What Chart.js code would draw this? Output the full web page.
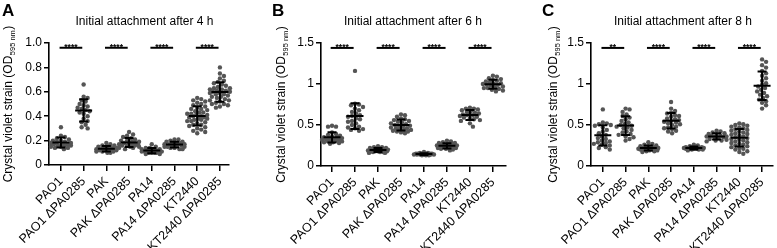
<!DOCTYPE html>
<html>
<head>
<meta charset="utf-8">
<script src="https://cdn.jsdelivr.net/npm/chart.js@4.4.1/dist/chart.umd.min.js"></script>
<style>
  body { margin: 0; background: #fff; }
  #wrap { position: relative; width: 777px; height: 248px; overflow: hidden; }
  canvas { position: absolute; top: 0; }
</style>
</head>
<body>
<div id="wrap">
  <canvas id="cA" width="270" height="248" style="left:0px"></canvas>
  <canvas id="cB" width="270" height="248" style="left:270px"></canvas>
  <canvas id="cC" width="237" height="248" style="left:540px"></canvas>
</div>
<script>
// strains on the x axis
const categories = ['PAO1', 'PAO1 ΔPA0285', 'PAK', 'PAK ΔPA0285', 'PA14', 'PA14 ΔPA0285', 'KT2440', 'KT2440 ΔPA0285'];

// crystal violet OD595 per replicate, one list per strain
const od4h = [
  [0.31, 0.24, 0.23, 0.22, 0.21, 0.20, 0.20, 0.19, 0.19, 0.18, 0.18, 0.17, 0.17, 0.17, 0.16, 0.16, 0.16, 0.15, 0.15, 0.14, 0.14, 0.13],
  [0.66, 0.56, 0.55, 0.53, 0.52, 0.50, 0.49, 0.48, 0.47, 0.46, 0.45, 0.44, 0.43, 0.42, 0.40, 0.38, 0.36, 0.35, 0.33, 0.31, 0.30],
  [0.18, 0.17, 0.16, 0.16, 0.15, 0.15, 0.14, 0.14, 0.14, 0.13, 0.13, 0.13, 0.13, 0.12, 0.12, 0.12, 0.12, 0.11, 0.11, 0.11, 0.10, 0.10],
  [0.27, 0.25, 0.24, 0.23, 0.22, 0.21, 0.20, 0.20, 0.19, 0.19, 0.18, 0.18, 0.18, 0.17, 0.17, 0.17, 0.16, 0.16, 0.16, 0.15, 0.15, 0.14, 0.14, 0.13],
  [0.17, 0.15, 0.14, 0.14, 0.13, 0.13, 0.12, 0.12, 0.12, 0.12, 0.11, 0.11, 0.11, 0.11, 0.10, 0.10, 0.10, 0.10, 0.09, 0.09],
  [0.21, 0.21, 0.20, 0.19, 0.19, 0.18, 0.18, 0.18, 0.17, 0.17, 0.17, 0.17, 0.16, 0.16, 0.16, 0.15, 0.15, 0.15, 0.14, 0.14, 0.13, 0.13],
  [0.55, 0.54, 0.53, 0.52, 0.51, 0.50, 0.49, 0.48, 0.47, 0.46, 0.46, 0.45, 0.44, 0.43, 0.43, 0.42, 0.42, 0.41, 0.41, 0.40,
   0.40, 0.39, 0.39, 0.38, 0.38, 0.37, 0.37, 0.36, 0.36, 0.35, 0.34, 0.33, 0.33, 0.32, 0.31, 0.30, 0.29, 0.28, 0.27, 0.26],
  [0.80, 0.75, 0.73, 0.71, 0.69, 0.68, 0.67, 0.66, 0.65, 0.64, 0.63, 0.63, 0.62, 0.62, 0.61, 0.61, 0.60, 0.60,
   0.59, 0.59, 0.58, 0.58, 0.57, 0.56, 0.56, 0.55, 0.54, 0.53, 0.53, 0.52, 0.51, 0.50, 0.50, 0.49, 0.48, 0.47]
];
const od6h = [
  [0.49, 0.48, 0.48, 0.41, 0.39, 0.38, 0.37, 0.36, 0.35, 0.35, 0.34, 0.34, 0.33, 0.33, 0.32, 0.32, 0.31, 0.31, 0.30, 0.30, 0.29, 0.29, 0.28, 0.27],
  [1.16, 0.76, 0.75, 0.74, 0.72, 0.70, 0.68, 0.66, 0.64, 0.62, 0.61, 0.60, 0.58, 0.57, 0.55, 0.54, 0.52, 0.50, 0.48, 0.47, 0.46, 0.45, 0.44, 0.43],
  [0.24, 0.23, 0.23, 0.22, 0.22, 0.21, 0.21, 0.20, 0.20, 0.20, 0.19, 0.19, 0.19, 0.18, 0.18, 0.18, 0.18, 0.17, 0.17, 0.17, 0.16, 0.16],
  [0.63, 0.62, 0.60, 0.58, 0.57, 0.56, 0.55, 0.54, 0.53, 0.52, 0.51, 0.50, 0.49, 0.49, 0.48, 0.47, 0.46, 0.46, 0.45, 0.44, 0.44, 0.43, 0.42, 0.42, 0.41, 0.40],
  [0.17, 0.16, 0.16, 0.15, 0.15, 0.15, 0.15, 0.15, 0.15, 0.14, 0.14, 0.14, 0.14, 0.14, 0.14, 0.14, 0.14, 0.13, 0.13, 0.13],
  [0.31, 0.30, 0.29, 0.28, 0.28, 0.27, 0.27, 0.26, 0.26, 0.25, 0.25, 0.25, 0.24, 0.24, 0.24, 0.23, 0.23, 0.22, 0.22, 0.22, 0.21, 0.21, 0.20, 0.19],
  [0.71, 0.70, 0.70, 0.69, 0.68, 0.67, 0.66, 0.65, 0.64, 0.63, 0.63, 0.62, 0.62, 0.61, 0.60, 0.59, 0.58, 0.57, 0.56, 0.55, 0.52, 0.48],
  [1.10, 1.09, 1.07, 1.06, 1.05, 1.04, 1.03, 1.02, 1.01, 1.00, 1.00, 0.99, 0.99, 0.98, 0.97, 0.96, 0.95, 0.95, 0.94, 0.93, 0.92, 0.91]
];
const od8h = [
  [0.69, 0.53, 0.52, 0.51, 0.50, 0.49, 0.47, 0.44, 0.42, 0.40, 0.38, 0.36, 0.34, 0.33, 0.31, 0.30, 0.29, 0.28, 0.27, 0.26, 0.25, 0.23, 0.22, 0.20],
  [0.70, 0.69, 0.66, 0.63, 0.61, 0.59, 0.57, 0.55, 0.53, 0.51, 0.50, 0.49, 0.48, 0.47, 0.46, 0.44, 0.42, 0.41, 0.39, 0.38, 0.36, 0.35, 0.33, 0.31],
  [0.29, 0.27, 0.26, 0.25, 0.24, 0.24, 0.23, 0.23, 0.22, 0.22, 0.22, 0.21, 0.21, 0.21, 0.20, 0.20, 0.20, 0.19, 0.19, 0.18, 0.18, 0.17],
  [0.78, 0.70, 0.67, 0.65, 0.64, 0.62, 0.61, 0.60, 0.58, 0.57, 0.56, 0.55, 0.54, 0.53, 0.52, 0.51, 0.50, 0.48, 0.47, 0.46, 0.45, 0.43, 0.42, 0.40],
  [0.26, 0.25, 0.24, 0.23, 0.23, 0.23, 0.22, 0.22, 0.22, 0.22, 0.22, 0.21, 0.21, 0.21, 0.21, 0.21, 0.20, 0.20, 0.20, 0.19],
  [0.43, 0.42, 0.41, 0.40, 0.39, 0.38, 0.37, 0.37, 0.36, 0.36, 0.35, 0.35, 0.34, 0.33, 0.32, 0.31, 0.31, 0.30],
  [0.52, 0.51, 0.50, 0.49, 0.48, 0.47, 0.46, 0.45, 0.44, 0.43, 0.42, 0.41, 0.40, 0.39, 0.38, 0.37, 0.36, 0.35,
   0.34, 0.33, 0.32, 0.31, 0.30, 0.29, 0.28, 0.27, 0.26, 0.25, 0.24, 0.23, 0.22, 0.21, 0.20, 0.18, 0.17, 0.15],
  [1.30, 1.27, 1.23, 1.20, 1.16, 1.13, 1.10, 1.07, 1.04, 1.01, 0.99, 0.97, 0.95, 0.93, 0.91, 0.89, 0.87, 0.85, 0.83, 0.81, 0.79, 0.77, 0.74, 0.70]
];

// significance for each WT / ΔPA0285 pair
const stars4h = ['****', '****', '****', '****'];
const stars6h = ['****', '****', '****', '****'];
const stars8h = ['**', '****', '****', '****'];

const titles = ['Initial attachment after 4 h', 'Initial attachment after 6 h', 'Initial attachment after 8 h'];
const letters = ['A', 'B', 'C'];

const FONT = "'Liberation Sans', Arial, Helvetica, sans-serif";
Chart.defaults.font.family = FONT;
Chart.defaults.color = '#000';

const panels = [
  { id: 'cA', values: od4h, stars: stars4h, yMax: 1.0, yStep: 0.2, sigY: 0.961, xMin: -0.525, xMax: 7.4, axisLeft: 49, axisRight: 229, bottom: 165, titleX: 144.5, yTitleX: 7.5 },
  { id: 'cB', values: od6h, stars: stars6h, yMax: 1.5, yStep: 0.5, sigY: 1.44,  xMin: -0.48,  xMax: 7.57, axisLeft: 51, axisRight: 236, bottom: 166, titleX: 143,   yTitleX: 10 },
  { id: 'cC', values: od8h, stars: stars8h, yMax: 1.5, yStep: 0.5, sigY: 1.44,  xMin: -0.52,  xMax: 7.48, axisLeft: 51, axisRight: 234, bottom: 166, titleX: 143,   yTitleX: 12 }
];

function mean(a) { return a.reduce((s, v) => s + v, 0) / a.length; }
function sd(a) { const m = mean(a); return Math.sqrt(a.reduce((s, v) => s + (v - m) * (v - m), 0) / (a.length - 1)); }

// spread the dots sideways so they don't pile up (beeswarm, in pixels)
function swarm(vals, pxY) {
  const d = 3.9, maxOff = 10;
  const placed = [];
  const off = new Array(vals.length).fill(0);
  const order = vals.map((v, i) => i).sort((a, b) => vals[b] - vals[a]);
  for (const i of order) {
    const y = vals[i] * pxY;
    let best = 0, bestDist = -1;
    for (let k = 0; k <= 2 * maxOff; k++) {
      const dx = k === 0 ? 0 : (k % 2 ? 1 : -1) * Math.ceil(k / 2);
      let minD = Infinity;
      for (const p of placed) minD = Math.min(minD, Math.hypot(p.x - dx, p.y - y));
      if (minD >= d) { best = dx; bestDist = minD; break; }
      if (minD > bestDist) { bestDist = minD; best = dx; }
    }
    placed.push({ x: best, y: y });
    off[i] = best;
  }
  return off;
}

function makeDecor(p, idx) {
  return {
    id: 'decor' + idx,
    afterDatasetsDraw(chart) {
      const { ctx, scales: { x, y } } = chart;
      ctx.save();
      ctx.strokeStyle = '#000';
      ctx.lineWidth = 2;
      // mean ± SD
      p.values.forEach((vals, i) => {
        const m = mean(vals), s = sd(vals);
        const cx = x.getPixelForValue(i);
        const ym = y.getPixelForValue(m), yt = y.getPixelForValue(m + s), yb = y.getPixelForValue(m - s);
        ctx.beginPath();
        ctx.moveTo(cx - 8.5, ym); ctx.lineTo(cx + 8.5, ym);
        ctx.moveTo(cx, yt); ctx.lineTo(cx, yb);
        ctx.moveTo(cx - 4.5, yt); ctx.lineTo(cx + 4.5, yt);
        ctx.moveTo(cx - 4.5, yb); ctx.lineTo(cx + 4.5, yb);
        ctx.stroke();
      });
      // significance bars
      ctx.fillStyle = '#000';
      ctx.font = 'bold 8.5px ' + FONT;
      ctx.textAlign = 'center';
      ctx.textBaseline = 'alphabetic';
      p.stars.forEach((st, k) => {
        const x1 = x.getPixelForValue(2 * k - 0.06), x2 = x.getPixelForValue(2 * k + 1 - 0.06);
        const yy = y.getPixelForValue(p.sigY);
        ctx.beginPath();
        ctx.moveTo(x1, yy); ctx.lineTo(x2, yy);
        ctx.stroke();
        ctx.fillText(st, (x1 + x2) / 2, yy + 2);
      });
      ctx.restore();
    },
    afterDraw(chart) {
      const { ctx, chartArea } = chart;
      ctx.save();
      ctx.fillStyle = '#000';
      ctx.textBaseline = 'alphabetic';
      ctx.textAlign = 'left';
      ctx.font = 'bold 17px ' + FONT;
      ctx.fillText(letters[idx], 2, 15.5);
      ctx.font = '12px ' + FONT;
      ctx.textAlign = 'center';
      ctx.fillText(titles[idx], p.titleX, 24.5);
      // y title with subscript
      const main = 'Crystal violet strain (OD', sub = '595 nm', end = ')';
      ctx.font = '12px ' + FONT;
      const w1 = ctx.measureText(main).width, w3 = ctx.measureText(end).width;
      ctx.font = '7.5px ' + FONT;
      const w2 = ctx.measureText(sub).width;
      const total = w1 + w2 + w3 + 1;
      ctx.translate(p.yTitleX, (chartArea.top + chartArea.bottom) / 2);
      ctx.rotate(-Math.PI / 2);
      ctx.textAlign = 'left';
      let sx = -total / 2;
      ctx.font = '12px ' + FONT;
      ctx.fillText(main, sx, 4.5);
      sx += w1 + 0.5;
      ctx.font = '7.5px ' + FONT;
      ctx.fillText(sub, sx, 7.5);
      sx += w2 + 0.5;
      ctx.font = '12px ' + FONT;
      ctx.fillText(end, sx, 4.5);
      ctx.restore();
    }
  };
}

panels.forEach((p, idx) => {
  const canvas = document.getElementById(p.id);
  const W = canvas.width, H = canvas.height;
  const pxX = (p.axisRight - p.axisLeft) / (p.xMax - p.xMin);
  const pxY = (p.bottom - 43) / p.yMax;

  const points = [];
  p.values.forEach((vals, i) => {
    const off = swarm(vals, pxY);
    vals.forEach((v, j) => points.push({ x: i + off[j] / pxX, y: v }));
  });

  new Chart(canvas, {
    type: 'scatter',
    data: {
      datasets: [{
        data: points,
        backgroundColor: '#555555',
        borderWidth: 0,
        pointRadius: 2.2,
        clip: false
      }]
    },
    options: {
      responsive: false,
      animation: false,
      devicePixelRatio: 1,
      layout: { padding: { top: 43, right: W - p.axisRight, left: 0, bottom: 0 } },
      plugins: { legend: { display: false }, tooltip: { enabled: false } },
      scales: {
        x: {
          type: 'linear',
          min: p.xMin,
          max: p.xMax,
          afterBuildTicks: s => { s.ticks = categories.map((c, i) => ({ value: i })); },
          afterFit: s => { s.height = H - p.bottom; },
          ticks: {
            autoSkip: false,
            minRotation: 45,
            maxRotation: 45,
            padding: 3,
            font: { size: 12.5 },
            color: '#000',
            callback: (v, i) => categories[i]
          },
          grid: { drawOnChartArea: false, drawTicks: true, tickLength: 6, color: '#000', lineWidth: 1.5 },
          border: { color: '#000', width: 1.6 }
        },
        y: {
          min: 0,
          max: p.yMax,
          afterFit: s => { s.width = p.axisLeft; },
          ticks: {
            stepSize: p.yStep,
            padding: 2,
            font: { size: 12 },
            color: '#000',
            callback: v => (p.yStep < 0.5 ? (v === 0 ? '0' : v.toFixed(1)) : String(+v.toFixed(1)))
          },
          grid: { drawOnChartArea: false, drawTicks: true, tickLength: 5, color: '#000', lineWidth: 1.5 },
          border: { color: '#000', width: 1.6 }
        }
      }
    },
    plugins: [makeDecor(p, idx)]
  });
});
</script>
</body>
</html>
